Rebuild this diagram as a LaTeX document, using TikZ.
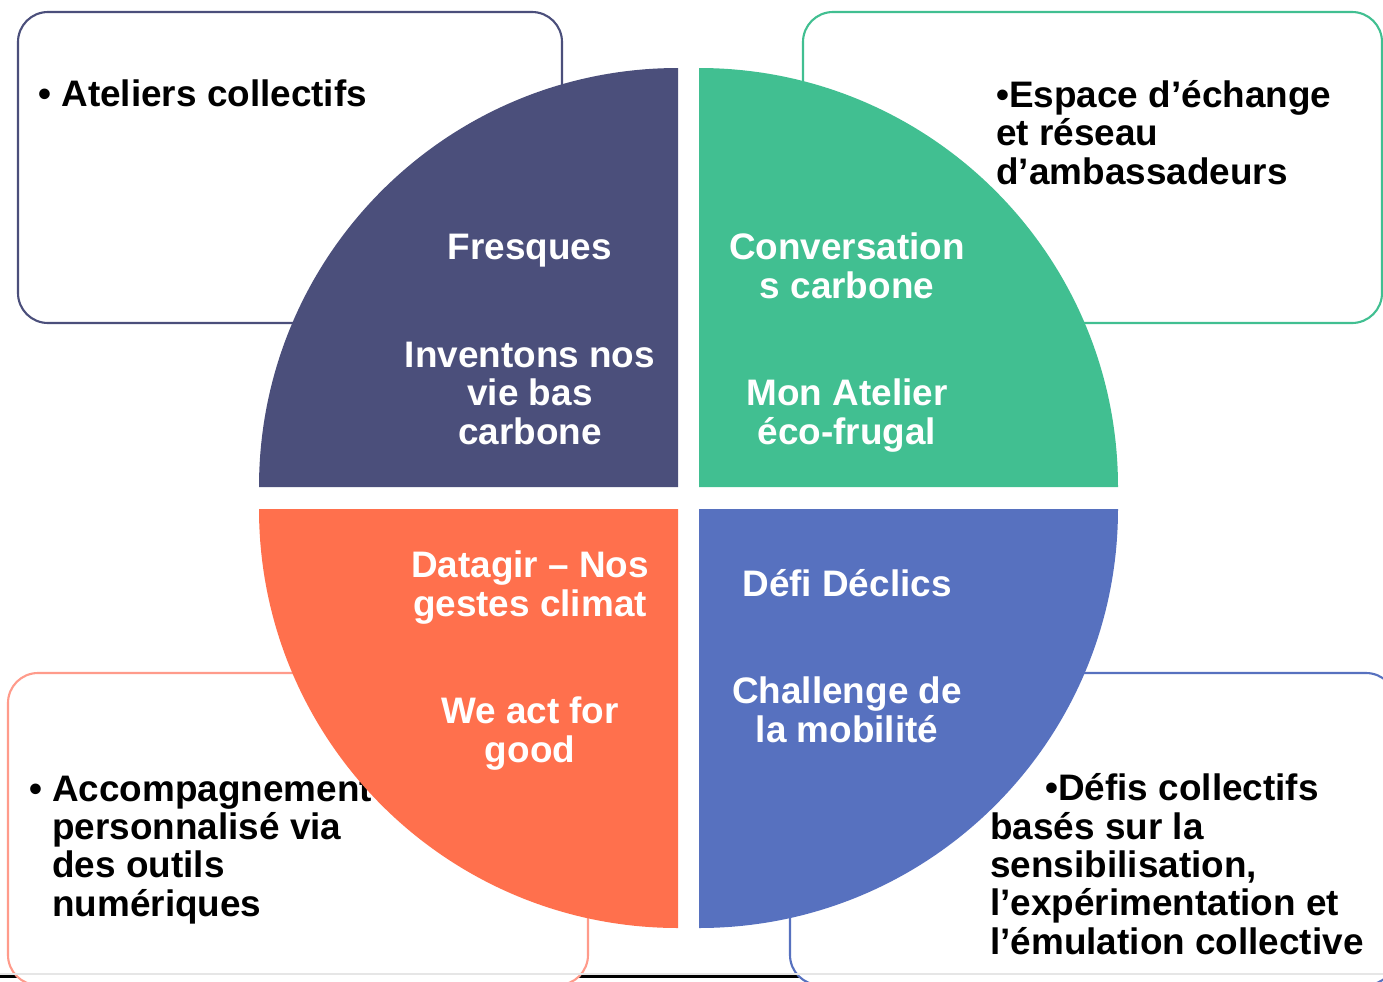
\documentclass[tikz,border=0pt]{standalone}
\usepackage{fontspec}
\setmainfont{Liberation Sans}
\usepackage{tikz}

\definecolor{fresqueblue}{HTML}{4B4F7B}
\definecolor{convgreen}{HTML}{41BF91}
\definecolor{dataorange}{HTML}{FF704D}
\definecolor{defiblue}{HTML}{5771BF}
\definecolor{accsalmon}{HTML}{FF9B8B}
\definecolor{rulegray}{HTML}{E6E6E6}

\begin{document}
\begin{tikzpicture}[x=0.02cm,y=0.02cm,
    quadtext/.style={white, font=\bfseries\fontsize{21}{21.8}\selectfont, align=center, anchor=base, inner sep=0pt},
    boxtext/.style={black, font=\bfseries\fontsize{21}{21.8}\selectfont, align=left, anchor=base west, inner sep=0pt},
    framebox/.style={line width=1.2pt, fill=white, rounded corners=0.6cm}]
        % Page size
        \useasboundingbox (0,0) rectangle (1383,-981);
        \clip (0,0) rectangle (1383,-981);

        % Bottom rule
        \draw[line width=1.7pt] (0,-976.5) -- (1383,-976.5);

        % Draw frames
        \draw[framebox, draw=fresqueblue] (18,-12) rectangle (562,-323);
        \draw[framebox, draw=convgreen] (803,-12) rectangle (1382,-323);
        \draw[framebox, draw=accsalmon] (8,-673) rectangle (588,-985);
        \draw[framebox, draw=defiblue] (790,-673) rectangle (1396,-985);
        \draw[rulegray, line width=1.2pt] (0,-974) -- (1383,-974);

        % Frame texts (base = last line)
        \node (ateliers) at (38,-106) [boxtext] {• Ateliers collectifs};
        \node (espace) at (996,-184) [boxtext] {•Espace d’échange\\et réseau\\d’ambassadeurs};
        \node (accomp) at (52,-916) [boxtext] {\llap{• }Accompagnement\\personnalisé via\\des outils\\numériques};
        \node (defis) at (990,-954) [boxtext] {\hspace*{1.1cm}•Défis collectifs\\basés sur la\\sensibilisation,\\l’expérimentation et\\l’émulation collective};

        % Draw quadrants
        \fill[fresqueblue] (678,-487) -- (259,-487) arc[start angle=180, end angle=90, radius=419] -- cycle;
        \fill[convgreen] (699,-487) -- (699,-68) arc[start angle=90, end angle=0, radius=419] -- cycle;
        \fill[dataorange] (678,-509) -- (259,-509) arc[start angle=180, end angle=270, radius=419] -- cycle;
        \fill[defiblue] (699,-509) -- (1118,-509) arc[start angle=0, end angle=-90, radius=419] -- cycle;

        % Quadrant labels
        \node (fresques) at (530,-259) [quadtext] {Fresques};
        \node (inventons) at (530,-444) [quadtext] {Inventons nos\\vie bas\\carbone};
        \node (conversation) at (847,-298) [quadtext] {Conversation\\s carbone};
        \node (atelier) at (847,-444) [quadtext] {Mon Atelier\\éco-frugal};
        \node (datagir) at (530,-616) [quadtext] {Datagir – Nos\\gestes climat};
        \node (weact) at (530,-762) [quadtext] {We act for\\good};
        \node (declics) at (847,-596) [quadtext] {Défi Déclics};
        \node (mobilite) at (847,-742) [quadtext] {Challenge de\\la mobilité};
\end{tikzpicture}
\end{document}
